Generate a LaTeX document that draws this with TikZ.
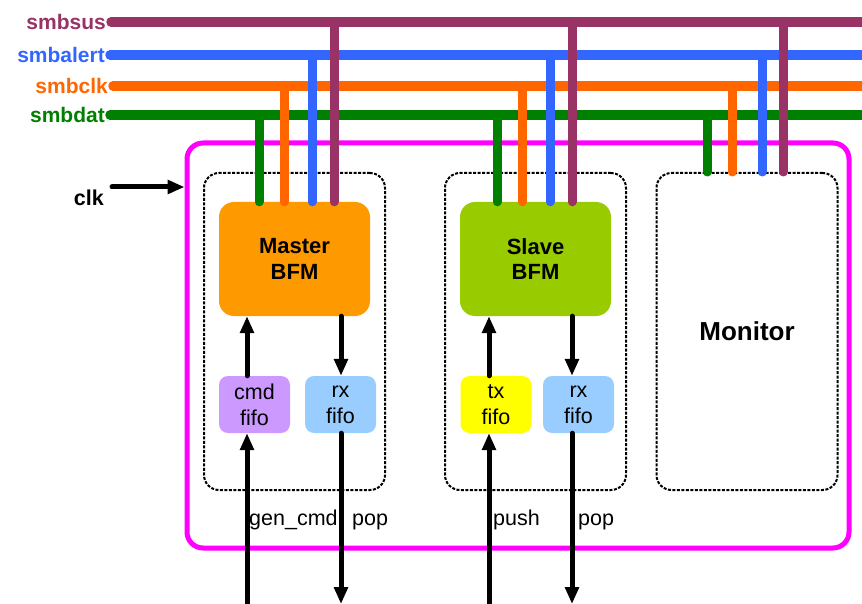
\documentclass[tikz,border=0pt]{standalone}
\usepackage{fontspec}
\setmainfont{Liberation Sans}
\usetikzlibrary{arrows.meta}
\definecolor{bussus}{HTML}{993366}
\definecolor{busalert}{HTML}{3366FF}
\definecolor{busclk}{HTML}{FF6600}
\definecolor{busdat}{HTML}{008000}
\definecolor{sysmagenta}{HTML}{FF00FF}
\definecolor{masterfill}{HTML}{FF9900}
\definecolor{slavefill}{HTML}{99CC00}
\definecolor{cmdfill}{HTML}{CC99FF}
\definecolor{rxfill}{HTML}{99CCFF}
\definecolor{txfill}{HTML}{FFFF00}

\begin{document}
\begin{tikzpicture}[x=1pt, y=-1pt, every node/.style={font=\fontsize{21.5}{26}\selectfont},
  buslbl/.style={anchor=east, inner sep=0pt, font=\fontsize{21}{25}\selectfont\bfseries},
  bus/.style={line width=9.5pt, line cap=round},
  tap/.style={line width=9pt, line cap=round},
  grpbox/.style={draw, line width=2pt, dash pattern=on 3pt off 1.5pt, rounded corners=15pt,
    minimum width=181pt, minimum height=317pt, inner sep=0pt},
  bfm/.style={rounded corners=15pt, minimum width=151pt, minimum height=114pt, inner sep=0pt,
    align=center, font=\fontsize{22}{25.5}\selectfont\bfseries},
  fifo/.style={rounded corners=9pt, minimum width=71pt, minimum height=57pt, inner sep=0pt, align=center},
  sig/.style={line width=5pt, line cap=round, -{Triangle[length=17pt,width=13.5pt]}},
  sigtxt/.style={anchor=base west, inner sep=0pt}]

  \useasboundingbox (0,0) rectangle (862,604);

  % system frame and block groups
  \node[draw=sysmagenta, line width=5pt, rounded corners=16pt, minimum width=662pt, minimum height=405pt,
    inner sep=0pt] (sys) at (518,345.5) {};
  \node[grpbox] (mgrp) at (294.5,331.5) {};
  \node[grpbox] (sgrp) at (535.5,331.5) {};
  \node[grpbox, font=\fontsize{26}{30}\selectfont\bfseries] (mon) at (747,331.5) {Monitor};

  \node[bfm, fill=masterfill] (master) at (294.5,259) {Master\\BFM};
  \node[bfm, fill=slavefill] (slave) at (535.5,259) {Slave\\BFM};

  \node[fifo, fill=cmdfill] (cmdf) at (254.5,404.5) {cmd\\fifo};
  \node[fifo, fill=rxfill] (rxm) at (340.5,404.5) {rx\\fifo};
  \node[fifo, fill=txfill] (txf) at (496,404.5) {tx\\fifo};
  \node[fifo, fill=rxfill] (rxs) at (578.5,404.5) {rx\\fifo};

  % smbus lines
  \node[buslbl, text=bussus] (lsus) at (106,22) {smbsus};
  \node[buslbl, text=busalert] (lalert) at (105,55) {smbalert};
  \node[buslbl, text=busclk] (lclk) at (108,86) {smbclk};
  \node[buslbl, text=busdat] (ldat) at (105,115) {smbdat};
  \coordinate (esus) at (870,22);
  \coordinate (ealert) at (870,55);
  \coordinate (eclk) at (870,86);
  \coordinate (edat) at (870,115);
  \draw[bus, bussus] ([xshift=5]lsus.east) -- (esus);
  \draw[bus, busalert] ([xshift=5]lalert.east) -- (ealert);
  \draw[bus, busclk] ([xshift=5]lclk.east) -- (eclk);
  \draw[bus, busdat] ([xshift=5]ldat.east) -- (edat);

  \foreach \blk/\a/\b/\c/\d in {master/-35.5/-10.5/17.5/39.5, slave/-38.5/-13.5/14.5/36.5, mon/-40/-15/15/36} {
    \draw[tap, busdat] ([xshift=\a]\blk.north |- ldat.east) -- ([xshift=\a]\blk.north);
    \draw[tap, busclk] ([xshift=\b]\blk.north |- lclk.east) -- ([xshift=\b]\blk.north);
    \draw[tap, busalert] ([xshift=\c]\blk.north |- lalert.east) -- ([xshift=\c]\blk.north);
    \draw[tap, bussus] ([xshift=\d]\blk.north |- lsus.east) -- ([xshift=\d]\blk.north);
  }

  % clock input
  \node[anchor=east, inner sep=0pt, font=\fontsize{21.5}{25}\selectfont\bfseries] (lclkin) at (104,198) {clk};
  \coordinate (clkin) at (112,187);
  \draw[sig] (clkin) -- (sys.west |- clkin);

  % fifo data paths
  \coordinate (gcin) at (247,604);
  \coordinate (popm) at (341,604);
  \coordinate (pushin) at (489,604);
  \coordinate (pops) at (572,604);
  \draw[sig] (gcin) -- (gcin |- cmdf.south);
  \draw[sig] (gcin |- cmdf.north) -- (gcin |- master.south);
  \draw[sig] (popm |- master.south) -- (popm |- rxm.north);
  \draw[sig] (popm |- rxm.south) -- (popm);
  \draw[sig] (pushin) -- (pushin |- txf.south);
  \draw[sig] (pushin |- txf.north) -- (pushin |- slave.south);
  \draw[sig] (pops |- slave.south) -- (pops |- rxs.north);
  \draw[sig] (pops |- rxs.south) -- (pops);

  \node[sigtxt] (lgen) at (249,525) {gen\_cmd};
  \node[sigtxt] (lpopm) at (352,525) {pop};
  \node[sigtxt] (lpush) at (493,525) {push};
  \node[sigtxt] (lpops) at (578,525) {pop};

\end{tikzpicture}
\end{document}
